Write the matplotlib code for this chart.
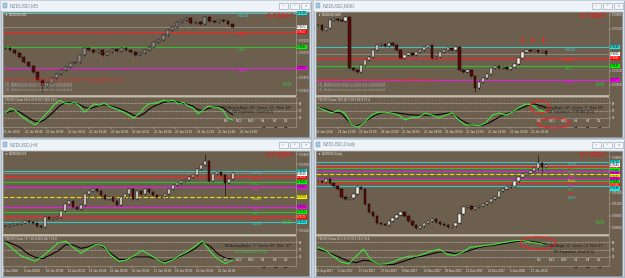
import numpy as np
from matplotlib import pyplot as plt
from matplotlib.patches import Rectangle, Ellipse

plt.rcParams['font.family'] = ['Liberation Sans', 'DejaVu Sans']

W, H = 625, 278
BROWN = '#6d5f4e'
FRAME = '#d3dbe4'
BEAR = '#5c0a0a'
LEVEL_COLORS = {'R100': '#3fc4c4', 'S100': '#3fc4c4', 'R78': '#ff2222', 'S78': '#ff2222',
                'R61': '#2fbf2f', 'S61': '#2fbf2f', 'R38': '#e020e0', 'S38': '#e020e0',
                'Pivot': '#e8e000'}
TAG_COLORS = {'R100': '#22e6e6', 'S100': '#22e6e6', 'R78': '#ff0000', 'S78': '#ff0000',
              'R61': '#00ff00', 'S61': '#00ff00', 'R38': '#ff00ff', 'S38': '#ff00ff',
              'Pivot': '#ffff00', 'bid': '#ffffff'}
TF_LABELS = ['M5', 'M15', 'M30', 'H1', 'H4', 'D1']
TF_X = [226, 239, 251, 263, 275, 286]
NEWS = ['Next 30 mins: 0 NZD/USD Currency Events Pending Alerts to news',
        '(2)  Additional news events not scheduled',
        '(3)  Additional news events not scheduled',
        '(4)  Additional news events not scheduled']

# ---- NZDUSD M5 (top left)
m5_close = [0.73588, 0.73580, 0.73568, 0.73552, 0.73532, 0.73516, 0.73492, 0.73460, 0.73436, 0.73448,
            0.73468, 0.73484, 0.73500, 0.73512, 0.73528, 0.73532, 0.73560, 0.73588, 0.73580, 0.73572,
            0.73580, 0.73560, 0.73572, 0.73584, 0.73576, 0.73588, 0.73580, 0.73572, 0.73560, 0.73568,
            0.73580, 0.73592, 0.73612, 0.73620, 0.73640, 0.73660, 0.73672, 0.73692, 0.73700, 0.73708,
            0.73688, 0.73692, 0.73684, 0.73712, 0.73696, 0.73692, 0.73700, 0.73696, 0.73684, 0.73672]
m5_spikes = {8: ('lo', 0.73412)}
m5_level_names = ['R100', 'R78', 'R61', 'R38']
m5_levels = [0.73728, 0.73652, 0.73592, 0.73508]
m5_yticks = [0.73420, 0.73470, 0.73520, 0.73570, 0.73620, 0.73670, 0.73720]
m5_green = [44, 56, 51, 39, 30, 22, 15, 25, 39, 51, 66, 75, 68, 66, 70, 61, 46, 56, 66, 63, 68, 61, 56, 51,
            46, 39, 32, 42, 56, 66, 68, 70, 75, 73, 75, 66, 70, 61, 56, 42, 51, 61, 58, 58, 51, 32, 27]
m5_black = [44, 48, 50, 46, 38, 30, 24, 22, 28, 38, 50, 62, 68, 69, 68, 65, 58, 55, 58, 62, 64, 62, 59, 55,
            50, 45, 38, 36, 42, 52, 60, 65, 70, 72, 73, 70, 68, 65, 60, 52, 50, 55, 58, 60, 57, 48, 40]
m5_times = ['26 Jan 2018', '26 Jan 08:40', '26 Jan 09:00', '26 Jan 09:20', '26 Jan 09:40', '26 Jan 10:00',
            '26 Jan 10:20', '26 Jan 10:40', '26 Jan 11:00', '26 Jan 11:20', '26 Jan 11:40', '26 Jan 12:00']

# ---- NZDUSD M30 (top right)
m30_close = [0.73750, 0.73725, 0.73735, 0.73775, 0.73780, 0.73775, 0.73770, 0.73790, 0.73535, 0.73525,
             0.73515, 0.73550, 0.73575, 0.73590, 0.73625, 0.73650, 0.73655, 0.73645, 0.73660, 0.73650,
             0.73625, 0.73585, 0.73600, 0.73610, 0.73600, 0.73615, 0.73625, 0.73640, 0.73650, 0.73585,
             0.73590, 0.73615, 0.73625, 0.73635, 0.73625, 0.73640, 0.73525, 0.73515, 0.73525, 0.73495,
             0.73435, 0.73465, 0.73485, 0.73505, 0.73535, 0.73545, 0.73535, 0.73540, 0.73530, 0.73540,
             0.73555, 0.73585, 0.73615, 0.73625, 0.73620, 0.73625, 0.73615, 0.73620, 0.73605]
m30_spikes = {40: ('lo', 0.73415)}
m30_level_names = ['R100', 'R78', 'R61', 'R38']
m30_levels = [0.73640, 0.73585, 0.73545, 0.73475]
m30_yticks = [0.73450, 0.73520, 0.73590, 0.73660, 0.73730, 0.73800]
m30_green = [58, 51, 44, 51, 44, 15, 10, 22, 39, 46, 46, 44, 39, 27, 34, 34, 44, 39, 32, 39, 44, 27,
             15, 15, 13, 20, 39, 44, 39, 46, 58, 66, 63, 51, 46]
m30_black = [58, 55, 50, 46, 44, 30, 14, 13, 20, 30, 39, 44, 46, 45, 44, 42, 40, 39, 39, 39, 39, 40,
             42, 44, 38, 28, 20, 14, 13, 15, 20, 28, 36, 42, 46, 52, 58, 63, 66, 62, 58]
m30_times = ['24 Jan 2018', '24 Jan 12:00', '24 Jan 16:00', '24 Jan 20:00', '25 Jan 00:00', '25 Jan 04:00',
             '25 Jan 08:00', '25 Jan 12:00', '25 Jan 16:00', '25 Jan 20:00', '26 Jan 00:00']

# ---- NZDUSD H4 (bottom left)
h4_close = [0.7308, 0.7309, 0.7310, 0.7310, 0.7311, 0.7313, 0.7312, 0.7311, 0.7308, 0.7307,
            0.7317, 0.7315, 0.7316, 0.7317, 0.7323, 0.7330, 0.7333, 0.7327, 0.7325, 0.7329,
            0.7340, 0.7343, 0.7345, 0.7343, 0.7339, 0.7335, 0.7337, 0.7333, 0.7329, 0.7337,
            0.7340, 0.7345, 0.7335, 0.7343, 0.7340, 0.7345, 0.7342, 0.7339, 0.7337, 0.7338,
            0.7340, 0.7345, 0.7349, 0.7351, 0.7353, 0.7354, 0.7357, 0.7359, 0.7365, 0.7369,
            0.7373, 0.7353, 0.7360, 0.7362, 0.7359, 0.7351, 0.7355, 0.7361]
h4_spikes = {50: ('hi', 0.7380), 55: ('lo', 0.7338)}
h4_level_names = ['R100', 'R78', 'R61', 'R38', 'Pivot', 'S38', 'S61', 'S78', 'S100']
h4_levels = [0.7363, 0.7357, 0.7352, 0.7347, 0.7337, 0.7327, 0.7322, 0.7317, 0.7312]
h4_yticks = [0.7304, 0.7340, 0.7370, 0.7380]
h4_green = [68, 52, 36, 28, 22, 35, 50, 66, 70, 55, 41, 53, 63, 58, 35, 21, 25, 35, 48, 38, 26, 17,
            24, 36, 45, 58, 71, 45, 27, 16, 25]
h4_black = [70, 64, 55, 40, 31, 28, 37, 47, 62, 61, 53, 57, 64, 55, 40, 26, 26, 32, 32, 32, 26, 20,
            26, 33, 42, 52, 68, 58, 40, 29, 27]
h4_times = ['8 Jan 2018', '9 Jan 04:00', '10 Jan 00:00', '11 Jan 00:00', '12 Jan 00:00', '15 Jan 00:00',
            '16 Jan 00:00', '17 Jan 00:00', '18 Jan 00:00', '19 Jan 00:00', '22 Jan 20:00']

# ---- NZDUSD Daily (bottom right)
d1_close = [0.7258, 0.7252, 0.7270, 0.7246, 0.7228, 0.7210, 0.7162, 0.7150, 0.7156, 0.7180,
            0.7222, 0.7210, 0.7120, 0.7072, 0.7048, 0.7006, 0.7000, 0.6994, 0.7018, 0.7036,
            0.7054, 0.7072, 0.7048, 0.7018, 0.6994, 0.6976, 0.6988, 0.7006, 0.7018, 0.7030,
            0.7012, 0.7000, 0.6994, 0.6982, 0.6988, 0.7006, 0.7060, 0.7102, 0.7108, 0.7090,
            0.7102, 0.7108, 0.7120, 0.7132, 0.7150, 0.7162, 0.7198, 0.7210, 0.7222, 0.7228,
            0.7258, 0.7282, 0.7300, 0.7306, 0.7318, 0.7336, 0.7366, 0.7342, 0.7354]
d1_spikes = {56: ('hi', 0.7414), 57: ('lo', 0.7312)}
d1_level_names = ['R100', 'R78', 'R61', 'R38', 'Pivot', 'S38', 'S61', 'S78', 'S100']
d1_levels = [0.7372, 0.7348, 0.7336, 0.7318, 0.7300, 0.7270, 0.7258, 0.7246, 0.7228]
d1_yticks = [0.6980, 0.7050, 0.7120, 0.7190, 0.7400]
d1_green = [56, 48, 34, 20, 15, 33, 51, 24, 15, 15, 21, 29, 34, 34, 40, 47, 51, 38, 36, 43, 56, 57,
            60, 62, 66, 69, 72, 72, 68, 65, 61]
d1_black = [50, 46, 38, 30, 22, 18, 24, 22, 16, 13, 14, 20, 26, 32, 35, 40, 44, 44, 40, 42, 48, 54,
            58, 60, 63, 66, 69, 71, 70, 67, 63]
d1_times = ['25 Sep 2017', '5 Oct 2017', '17 Oct 2017', '27 Oct 2017', '8 Nov 2017', '20 Nov 2017',
            '30 Nov 2017', '12 Dec 2017', '22 Dec 2017', '5 Jan 2018', '17 Jan 2018']


def px_rect(x, y, w, h):
    return [x / W, 1 - (y + h) / H, w / W, h / H]


def spread(ys, gap):
    # push labels apart (in pixels, measured upward) so they do not sit on each other
    order = np.argsort(ys)[::-1]
    out = np.array(ys, dtype=float)
    last = None
    for i in order:
        if last is not None and last - out[i] < gap:
            out[i] = last - gap
        last = out[i]
    return out


def draw_panel(fig, ox, oy, p):
    closes = np.array(p['close'])
    n = len(closes)
    opens = np.r_[closes[0], closes[:-1]]
    y0, y1 = p['ylim']
    pad = (y1 - y0) * 0.012
    ch = 83

    # window chrome
    bg = fig.add_axes(px_rect(ox, oy, 312, 139))
    bg.set_xlim(0, 312)
    bg.set_ylim(139, 0)
    bg.axis('off')
    bg.add_patch(Rectangle((0.5, 0.5), 310.5, 137.5, fc=FRAME, ec='#a3b2c2', lw=0.6))
    bg.add_patch(Rectangle((1, 1), 309.5, 9.5, fc='#eef3f8', ec='none'))
    bg.add_patch(Rectangle((3, 11.5), 306, 125, fc=BROWN, ec='#8a929a', lw=0.5))
    bg.add_patch(Rectangle((3, 95), 293, 2, fc='#c4bcad', ec='none'))
    bg.add_patch(Rectangle((2.5, 3), 4.5, 4.5, fc='#a9c6e2', ec='#6f8fb0', lw=0.3))
    for bx, sym in zip((279, 290, 301), ('–', '▫', '×')):
        bg.add_patch(Rectangle((bx, 2.5), 9, 6, fc='#f4f7fa', ec='#8e9cac', lw=0.4))
        bg.text(bx + 4.5, 5.6, sym, fontsize=2.8, color='#56606c', ha='center', va='center')
    bg.text(10, 5.8, p['title'], fontsize=3.6, color='#7b8898', va='center')

    # price chart
    ax = fig.add_axes(px_rect(ox + 3, oy + 12, 293, ch))
    ax.set_facecolor(BROWN)
    xs = np.arange(n)
    x1 = -0.5 + n * 293 / 232
    ax.set_xlim(-0.5, x1)
    ax.set_ylim(y0, y1)
    lvl_px = (np.array(p['levels']) - y0) / (y1 - y0) * ch
    lab_px = spread(lvl_px, p['label_gap'])
    for name, val, yp in zip(p['level_names'], p['levels'], lab_px):
        ax.axhline(val, color=LEVEL_COLORS[name], lw=0.8, zorder=1,
                   ls=(0, (4, 2)) if name == 'Pivot' else '-')
        ax.text((p['label_x'] - 3) / 293, yp / ch, name, transform=ax.transAxes,
                fontsize=p['label_size'], color=LEVEL_COLORS[name], va='top', ha='left', zorder=4)
    ax.axhline(closes[-1], color='#a8a8a8', lw=0.4, zorder=1)

    tag_names = list(p['level_names']) + ['bid']
    tag_vals = list(p['levels']) + [closes[-1]]
    tag_px = (np.array(tag_vals) - y0) / (y1 - y0) * ch
    tag_pos = spread(tag_px, 2.9)
    for name, val, yp in zip(tag_names, tag_vals, tag_pos):
        ax.text(1.004, yp / ch, f'{val:.5f}', transform=ax.transAxes, fontsize=1.9,
                color='white' if name in ('R78', 'S78') else 'black', va='center', ha='left',
                bbox=dict(boxstyle='square,pad=0.15', fc=TAG_COLORS[name], ec='none'),
                clip_on=False, zorder=6)

    top = np.maximum(opens, closes)
    bot = np.minimum(opens, closes)
    hi = top + pad
    lo = bot - pad
    for i, (kind, v) in p['spikes'].items():
        if kind == 'hi':
            hi[i] = v
        else:
            lo[i] = v
    ax.vlines(xs, lo, hi, color='black', lw=0.4, zorder=2)
    body = np.maximum(top - bot, (y1 - y0) * 0.005)
    colors = [p['bull'] if c >= o else BEAR for o, c in zip(opens, closes)]
    ax.bar(xs, body, bottom=bot, width=0.62, color=colors, edgecolor='black',
           linewidth=0.3, zorder=3)

    # keep only axis prices that are clear of the tags
    ticks = [t for t in p['yticks']
             if np.min(np.abs((t - y0) / (y1 - y0) * ch - tag_pos)) > 4]
    ax.yaxis.tick_right()
    ax.set_yticks(ticks)
    ax.set_yticklabels([f'{v:.5f}' for v in ticks])
    ax.tick_params(axis='y', labelsize=2.1, colors='#e6e6e6', length=1.2, width=0.3, pad=0.8)
    ax.set_xticks([])
    for s in ax.spines.values():
        s.set_color('#aaa293')
        s.set_linewidth(0.4)

    # TDI indicator
    ind = fig.add_axes(px_rect(ox + 3, oy + 97, 293, 30))
    ind.set_facecolor(BROWN)
    ind.set_xlim(-0.5, x1)
    ind.set_ylim(10, 83)
    for lv in (32, 50, 68):
        ind.axhline(lv, color='#d6d6d6', lw=0.45, ls=(0, (1.2, 1.2)))
    ind.plot(np.linspace(0, n - 1, len(p['black'])), p['black'], color='black', lw=0.75)
    ind.plot(np.linspace(0, n - 1, len(p['green'])), p['green'], color='#3cec3c', lw=0.75)
    ind.yaxis.tick_right()
    ind.set_yticks([32, 50, 68])
    ind.tick_params(axis='y', labelsize=2.1, colors='#e6e6e6', length=1.2, width=0.3, pad=0.8)
    step = (x1 + 0.5) * 21.5 / 293
    ind.set_xticks(-0.5 + np.arange(len(p['times'])) * step)
    ind.set_xticklabels(p['times'], ha='left')
    ind.tick_params(axis='x', labelsize=2.2, colors='#e6e6e6', length=1.5, width=0.3, pad=1)
    for s in ind.spines.values():
        s.set_color('#aaa293')
        s.set_linewidth(0.4)

    # texts drawn on top
    fg = fig.add_axes(px_rect(ox, oy, 312, 139))
    fg.set_xlim(0, 312)
    fg.set_ylim(139, 0)
    fg.axis('off')
    fg.text(294, 16.5, '0.73597', color='#ff1010', fontsize=5.4, ha='right', va='center')
    fg.text(287, 84, '0.0', color='#2fd02f', fontsize=4.6, ha='center', va='center')
    fg.text(5, 14.5, '▼ ' + p['title'], fontsize=2.2, color='#f0f0f0', va='center')
    fg.text(5, 99.8, p['tdi_head'], fontsize=2.2, color='#dedede', va='center')
    fg.text(p['angle_x'], 107.5, p['angle'], fontsize=2.4, color='#1a1a1a', va='center')
    fg.text(p['angle_x'] + 10, 112.5, p['sep'], fontsize=2.4, color=p['sep_color'], va='center')
    for x, tf, arrow in zip(TF_X, TF_LABELS, p['arrows']):
        fg.text(x, 121, tf, fontsize=2.4, color='#e4e4e4', ha='center', va='center')
        fg.text(x, 127, '↓' if arrow == 'down' else '→', fontsize=3.8, ha='center', va='center',
                color='#ff2020' if arrow == 'down' else 'black', fontweight='bold')
    if p['news']:
        fg.text(5, 80, NEWS[0], fontsize=2.9, color='#ff2020', va='center')
        for k, line in enumerate(NEWS[1:]):
            fg.text(5, 83.5 + 3 * k, line, fontsize=2.6, color='#9c9c9c', va='center')
    for cx, cy, ew, eh in p['circles']:
        fg.add_patch(Ellipse((cx, cy), ew, eh, fill=False, ec='#ff1a1a', lw=0.7))
    for mx in p['marks']:
        fg.annotate('', xy=(mx, 45), xytext=(mx - 2, 34),
                    arrowprops=dict(arrowstyle='-|>', color='#ff1a1a', lw=0.6, mutation_scale=3,
                                    connectionstyle='arc3,rad=0.3'))


panels = [
    dict(title='NZDUSD,M5', close=m5_close, spikes=m5_spikes, ylim=(0.73400, 0.73732),
         level_names=m5_level_names, levels=m5_levels, yticks=m5_yticks, label_x=238,
         label_size=3.4, label_gap=5,
         green=m5_green, black=m5_black, times=m5_times, bull='#8c8c8c',
         tdi_head='TDI-RT-Clone 64.0 22.8 59.7 38.6 31.5',
         angle='TDI Analog Angle: 60°  Green: -36°  Red: -69°', angle_x=222,
         sep='TDI Separation: Good [4.5]', sep_color='#1a1a1a',
         arrows=['down', 'down', 'down', 'right', 'right', 'right'], news=True,
         circles=[], marks=[]),
    dict(title='NZDUSD,M30', close=m30_close, spikes=m30_spikes, ylim=(0.73400, 0.73815),
         level_names=m30_level_names, levels=m30_levels, yticks=m30_yticks, label_x=252,
         label_size=3.4, label_gap=5,
         green=m30_green, black=m30_black, times=m30_times, bull='#f2f2f2',
         tdi_head='TDI-RT-Clone 78.6 20.7 59.2 66.9 57.4',
         angle='TDI Analog Angle: 42°  Green: -7°  Red: 60°', angle_x=224,
         sep='TDI Separation: STRONG [6.0]', sep_color='#1a1a1a',
         arrows=['down', 'down', 'down', 'right', 'right', 'right'], news=True,
         circles=[(227, 107, 20, 12), (241, 123, 32, 10)], marks=[212, 222, 233]),
    dict(title='NZDUSD,H4', close=h4_close, spikes=h4_spikes, ylim=(0.7300, 0.7383),
         level_names=h4_level_names, levels=h4_levels, yticks=h4_yticks, label_x=252,
         label_size=3.2, label_gap=4.8,
         green=h4_green, black=h4_black, times=h4_times, bull='#f2f2f2',
         tdi_head='TDI-RT-Clone 79.7 28.0 28.3 44.7 33.8',
         angle='TDI Analog Angle: -7°  Green: 83°  Red: -37°', angle_x=224,
         sep='TDI Crossed UP [2.0]', sep_color='#2fd02f',
         arrows=['down', 'down', 'down', 'right', 'right', 'right'], news=False,
         circles=[], marks=[]),
    dict(title='NZDUSD,Daily', close=d1_close, spikes=d1_spikes, ylim=(0.6940, 0.7438),
         level_names=d1_level_names, levels=d1_levels, yticks=d1_yticks, label_x=255,
         label_size=2.6, label_gap=4.3,
         green=d1_green, black=d1_black, times=d1_times, bull='#f2f2f2',
         tdi_head='TDI-RT-Clone 87.1 37.8 70.2 72.6 70.6',
         angle='TDI Mkt Angle: -6°  Green: -3°  Red: 17°', angle_x=230,
         sep='TDI Separation: Good [1.8]', sep_color='#1a1a1a',
         arrows=['down', 'down', 'down', 'right', 'right', 'right'], news=False,
         circles=[(225, 104, 36, 12)], marks=[]),
]

fig = plt.figure(figsize=(W / 100, H / 100), dpi=100)
fig.patch.set_facecolor('#c8d2dc')
for (ox, oy), p in zip([(0, 0), (313, 0), (0, 139), (313, 139)], panels):
    draw_panel(fig, ox, oy, p)
fig.savefig('out.png', dpi=100, facecolor=fig.get_facecolor())
